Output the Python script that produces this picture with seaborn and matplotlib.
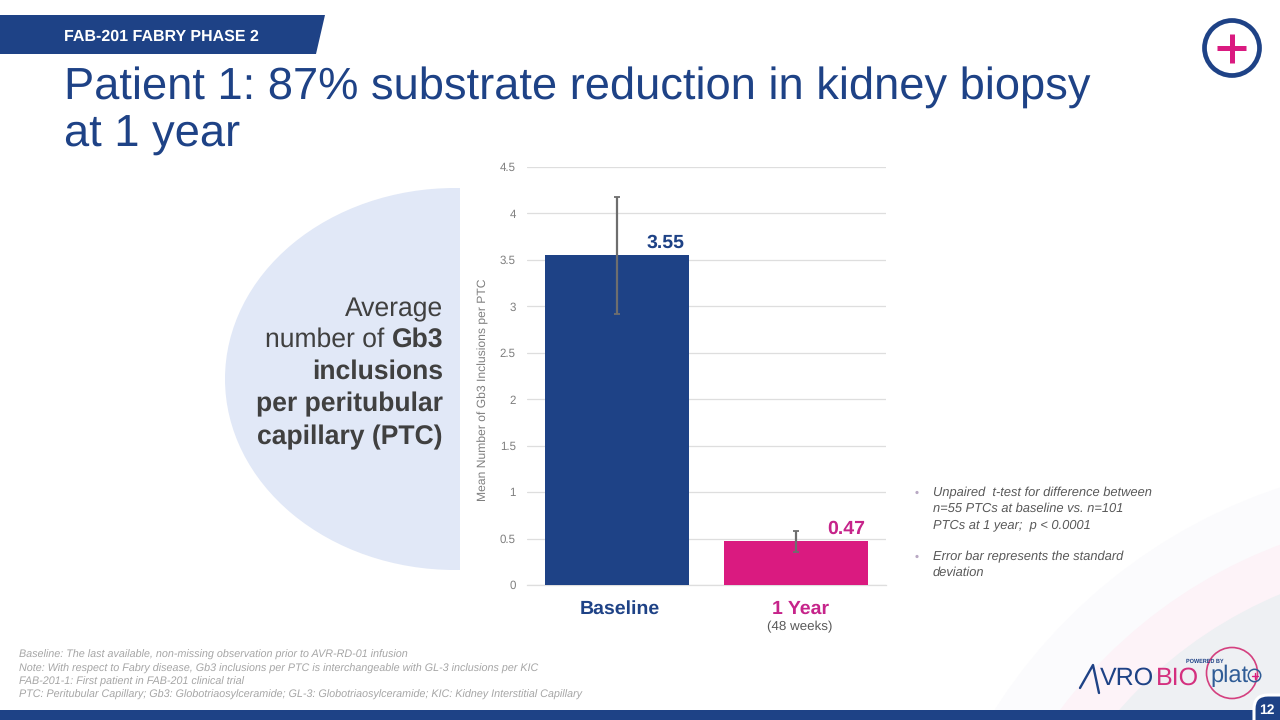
import pandas as pd
import matplotlib
matplotlib.use('Agg')
import matplotlib.pyplot as plt
from matplotlib.patches import Circle, Ellipse, Polygon, Rectangle, FancyBboxPatch
from matplotlib.transforms import ScaledTranslation
import seaborn as sns

# datos
categorias = ['Baseline', '1 Year']
medias = [3.55, 0.47]
desvios = [0.63, 0.115]
etiquetas = ['3.55', '0.47']
ticks_y = [0, 0.5, 1, 1.5, 2, 2.5, 3, 3.5, 4, 4.5]
ticks_y_txt = ['0', '0.5', '1', '1.5', '2', '2.5', '3', '3.5', '4', '4.5']

notas = [
    'Baseline: The last available, non-missing observation prior to AVR-RD-01 infusion',
    'Note: With respect to Fabry disease, Gb3 inclusions per PTC is interchangeable with GL-3 inclusions per KIC',
    'FAB-201-1: First patient in FAB-201 clinical trial',
    'PTC: Peritubular Capillary; Gb3: Globotriaosylceramide; GL-3: Globotriaosylceramide; KIC: Kidney Interstitial Capillary',
]

AZUL = '#1E4286'
MAGENTA = '#DA1A80'
MAGENTA_TXT = '#C6248A'
GRIS = '#595959'
GRIS_EJE = '#7F7F7F'

sns.set_theme(style='white')
plt.rcParams['font.family'] = ['Liberation Sans', 'DejaVu Sans']
plt.rcParams['text.hinting'] = 'none'
plt.rcParams['text.hinting_factor'] = 8

fig = plt.figure(figsize=(12.8, 7.2), dpi=100)

# fondo de la diapositiva, en pixeles
bg = fig.add_axes([0, 0, 1, 1], zorder=0)
bg.set_xlim(0, 1280)
bg.set_ylim(720, 0)
bg.axis('off')

bg.add_patch(Circle((1450, 1000), 540, color='#FBFBFD', lw=0))
bg.add_patch(Circle((1450, 1000), 486, color='#FDF3F8', lw=0))
bg.add_patch(Circle((1450, 1000), 440, color='#EEF0F3', lw=0))

clip = Rectangle((200, 180), 260, 400, transform=bg.transData)
elipse = Ellipse((455, 379), 460, 382, color='#E1E8F7', lw=0)
bg.add_patch(elipse)
elipse.set_clip_path(clip)

bg.add_patch(Polygon([(0, 15), (325, 15), (316, 54), (0, 54)], color=AZUL, lw=0))
bg.text(64, 36.5, 'FAB-201 FABRY PHASE 2', color='white', fontsize=11.5, fontweight='bold', va='center')
bg.text(64, 87, 'Patient 1: 87% substrate reduction in kidney biopsy', color=AZUL, fontsize=32.6, va='center')
bg.text(64, 135, 'at 1 year', color=AZUL, fontsize=32.6, va='center')

# icono +
bg.add_patch(Circle((1232, 48), 27.5, fill=False, ec=AZUL, lw=3.4))
bg.plot([1217, 1246], [48, 48], color=MAGENTA, lw=3.6, solid_capstyle='butt')
bg.plot([1232, 1232], [34, 63], color=MAGENTA, lw=3.6, solid_capstyle='butt')

# texto de la elipse
fig.canvas.draw()
rend = fig.canvas.get_renderer()
fs = 19.1
lineas = [
    (309, [('Average', 'normal')]),
    (340, [('Gb3', 'bold'), ('number of', 'normal')]),
    (372, [('inclusions', 'bold')]),
    (404, [('per peritubular', 'bold')]),
    (437, [('capillary (PTC)', 'bold')]),
]
for y, partes in lineas:
    x = 443
    for txt, peso in partes:
        t = bg.text(x, y, txt, color='#404040', fontsize=fs, fontweight=peso, ha='right', va='center')
        x = x - t.get_window_extent(rend).width - 7

# grafico principal
ax = fig.add_axes([527 / 1280, 1 - 585 / 720, 359 / 1280, 418 / 720], zorder=1)
ax.patch.set_alpha(0)
df = pd.DataFrame({'categoria': categorias, 'media': medias})
sns.barplot(data=df, x='categoria', y='media', hue='categoria', palette=[AZUL, MAGENTA],
            width=0.805, saturation=1, errorbar=None, legend=False, linewidth=0, ax=ax, zorder=3)
ax.errorbar(range(len(categorias)), medias, yerr=desvios, fmt='none', ecolor='#6E6E6E',
            elinewidth=1.6, capsize=2.2, capthick=1.3, zorder=4)
ax.set_xlim(-0.5, 1.5)
ax.set_ylim(0, 4.5)
ax.set_yticks(ticks_y)
ax.set_yticklabels(ticks_y_txt, fontsize=8.3, color=GRIS_EJE)
ax.yaxis.grid(True, color='#DEDEDE', lw=0.9)
ax.set_axisbelow(True)
ax.tick_params(axis='y', length=0, pad=8)
ax.tick_params(axis='x', length=0, pad=11)
sns.despine(ax=ax, left=True)
ax.spines['bottom'].set_color('#DEDEDE')
ax.spines['bottom'].set_linewidth(0.9)
ax.set_xlabel('')
ax.set_ylabel('Mean Number of Gb3 Inclusions per PTC', fontsize=8.7, color=GRIS_EJE)
ax.yaxis.set_label_coords(-0.106, 0.4665)
ax.set_xticks(range(len(categorias)))
ax.set_xticklabels(categorias, fontsize=14, fontweight='bold')
# las etiquetas del original no estan centradas bajo las barras
for lab, col, dx in zip(ax.get_xticklabels(), [AZUL, MAGENTA_TXT], [3, 4]):
    lab.set_color(col)
    lab.set_transform(lab.get_transform() + ScaledTranslation(dx / 100, 0, fig.dpi_scale_trans))

ax.text(0.27, 3.68, etiquetas[0], color=AZUL, fontsize=14, fontweight='bold', ha='center', va='center')
ax.text(1.28, 0.60, etiquetas[1], color=MAGENTA_TXT, fontsize=14, fontweight='bold', ha='center', va='center')
bg.text(800, 627, '(48 weeks)', color=GRIS, fontsize=9.6, ha='center', va='center', zorder=5)

# texto de la derecha
bullets = [
    (492.5, 'Unpaired  t-test for difference between', True),
    (508.5, 'n=55 PTCs at baseline vs. n=101', False),
    (524.5, 'PTCs at 1 year;  p < 0.0001', False),
    (556.5, 'Error bar represents the standard', True),
    (572.5, 'deviation', False),
]
for y, txt, punto in bullets:
    bg.text(933, y, txt, color=GRIS, fontsize=9.3, fontstyle='italic', va='center')
    if punto:
        bg.add_patch(Circle((917, y), 1.6, color='#B9A9C4', lw=0))

# notas al pie
for y, txt in zip([655, 669, 682, 695], notas):
    bg.text(19, y, txt, color='#A6A6A6', fontsize=7.79, fontstyle='italic', va='center')

# barra inferior y numero de pagina
bg.add_patch(Rectangle((0, 710), 1280, 10, color=AZUL, lw=0))
bg.add_patch(FancyBboxPatch((1254, 695), 60, 60, boxstyle='round,pad=0,rounding_size=14',
                            fc=AZUL, ec='white', lw=2.2))
bg.text(1267, 710.5, '12', color='white', fontsize=10, fontweight='bold', ha='center', va='center')

# logo
bg.plot([1080, 1093, 1099], [688, 665, 693], color=AZUL, lw=1.7)
bg.text(1100, 678, 'VRO', color=AZUL, fontsize=18, va='center', ha='left')
bg.text(1156, 678, 'BIO', color='#D4307F', fontsize=18, va='center', ha='left')
bg.add_patch(Circle((1232, 673), 25.5, fill=False, ec='#D4407F', lw=1.2))
bg.text(1210, 676, 'plat', color='#2F5C96', fontsize=17, va='center', ha='left')
bg.add_patch(Circle((1254.5, 675.5), 6.2, fill=False, ec='#2F5C96', lw=1.1))
bg.plot([1251.5, 1257.5], [675.5, 675.5], color=MAGENTA, lw=1)
bg.plot([1254.5, 1254.5], [672.5, 678.5], color=MAGENTA, lw=1)
bg.text(1205, 661, 'POWERED BY', color=AZUL, fontsize=4, fontweight='bold', ha='center', va='center')

fig.savefig('out.png', dpi=100)
